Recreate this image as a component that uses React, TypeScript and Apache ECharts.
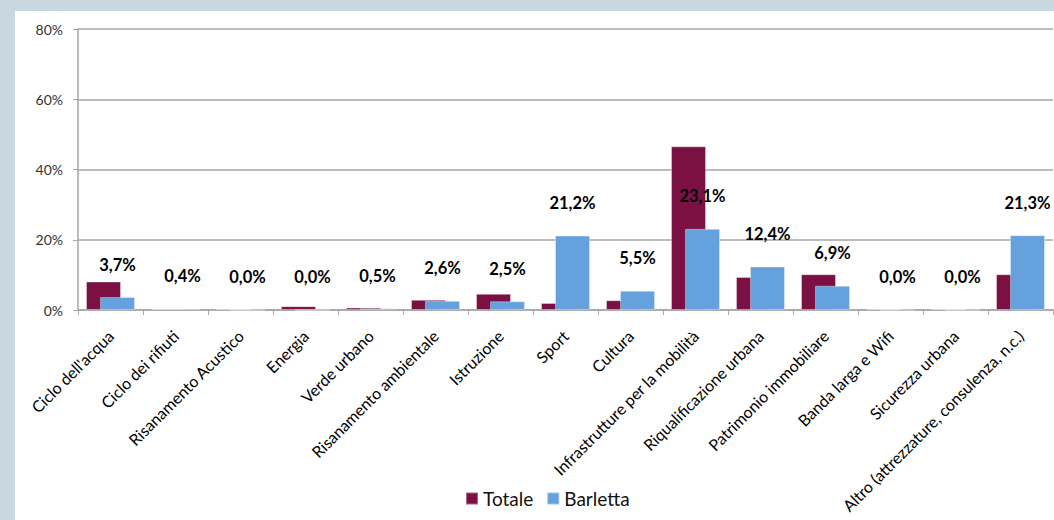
import React, { useEffect, useRef } from "react";
import * as echarts from "echarts";

const categories = [
  "Ciclo dell'acqua",
  "Ciclo dei rifiuti",
  "Risanamento Acustico",
  "Energia",
  "Verde urbano",
  "Risanamento ambientale",
  "Istruzione",
  "Sport",
  "Cultura",
  "Infrastrutture per la mobilità",
  "Riqualificazione urbana",
  "Patrimonio immobiliare",
  "Banda larga e Wifi",
  "Sicurezza urbana",
  "Altro (attrezzature, consulenza, n.c.)",
];

const totale = [8.1, 0.3, 0.3, 1.1, 0.7, 2.9, 4.6, 2.0, 2.8, 46.6, 9.4, 10.2, 0.3, 0.3, 10.2];
const barletta = [3.7, 0.4, 0.0, 0.0, 0.5, 2.6, 2.5, 21.2, 5.5, 23.1, 12.4, 6.9, 0.0, 0.0, 21.3];

const yTicks = { min: 0, max: 80, interval: 20 };

const FONT = "Lato, 'Open Sans', sans-serif";

export default function App() {
  const ref = useRef<HTMLDivElement>(null);
  useEffect(() => {
    if (!ref.current) return;
    const chart = echarts.init(ref.current, undefined, { renderer: "svg" });
    chart.setOption({
      animation: false,
      textStyle: { fontFamily: FONT },
      grid: { left: 63, right: 1, top: 18, bottom: 210, containLabel: false },
      legend: {
        left: 445,
        top: 473,
        itemWidth: 12,
        itemHeight: 12,
        itemGap: 13,
        icon: "rect",
        textStyle: { fontSize: 19, color: "#111", fontFamily: FONT },
        data: ["Totale", "Barletta"],
      },
      xAxis: {
        type: "category",
        data: categories,
        axisLine: { lineStyle: { color: "#a6a6a6", width: 1.5 } },
        axisTick: { show: true, length: 5, alignWithLabel: false, lineStyle: { color: "#a6a6a6" } },
        axisLabel: {
          rotate: 45,
          interval: 0,
          fontSize: 16,
          color: "#000",
          fontFamily: FONT,
          margin: 23,
        },
      },
      yAxis: {
        type: "value",
        min: yTicks.min,
        max: yTicks.max,
        interval: yTicks.interval,
        axisLine: { show: true, lineStyle: { color: "#a6a6a6", width: 1.5 } },
        axisTick: { show: true, length: 5, lineStyle: { color: "#a6a6a6" } },
        splitLine: { lineStyle: { color: "#a6a6a6", width: 1.5 } },
        axisLabel: { formatter: "{value}%", fontSize: 14, color: "#333", fontFamily: FONT, margin: 15 },
      },
      series: [
        {
          name: "Totale",
          type: "bar",
          data: totale,
          barWidth: 35,
          barGap: "-60%",
          itemStyle: { color: "#7b1142", borderColor: "rgba(255,255,255,0.35)", borderWidth: 1 },
        },
        {
          name: "Barletta",
          type: "bar",
          data: barletta,
          barWidth: 35,
          barGap: "-60%",
          itemStyle: { color: "#65a2dd", borderColor: "rgba(255,255,255,0.35)", borderWidth: 1 },
          label: {
            show: true,
            position: "top",
            distance: 24,
            fontSize: 16.5,
            fontWeight: "bold",
            color: "#000",
            fontFamily: FONT,
            formatter: (p: any) => p.value.toFixed(1).replace(".", ",") + "%",
          },
        },
      ],
    });
    return () => chart.dispose();
  }, []);
  return (
    <div style={{ position: "absolute", left: 0, top: 0, width: 1054, height: 520, background: "#c9d7e0", overflow: "hidden" }}>
      <div ref={ref} style={{ position: "absolute", left: 15, top: 11, width: 1039, height: 509, background: "#fff" }} />
    </div>
  );
}
